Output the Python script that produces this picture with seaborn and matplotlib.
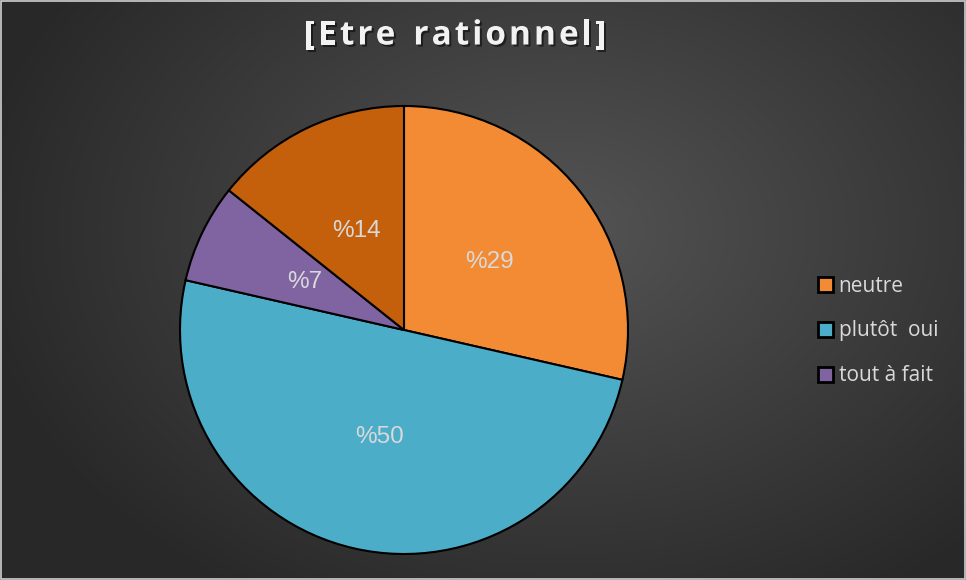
import matplotlib.pyplot as plt
import matplotlib.patheffects as pe
import numpy as np
import seaborn as sns
from matplotlib.patches import Patch, Rectangle

categories = ["neutre", "plutôt  oui", "tout à fait", ""]
counts = [4, 7, 1, 2]
colors = ["#F38B34", "#4BADC8", "#8064A2", "#C4600C"]
title = "[Etre rationnel]"


def main() -> None:
    sns.set_theme(style="dark")
    plt.rcParams["font.family"] = ["Open Sans", "DejaVu Sans"]

    fig = plt.figure(figsize=(9.66, 5.8), dpi=100)

    # radial gradient background
    bg = fig.add_axes([0, 0, 1, 1])
    yy, xx = np.mgrid[0:580, 0:966]
    d = np.hypot((xx - 560) / 966, (yy - 230) / 700)
    shade = np.clip(0.33 - 0.28 * d, 0.16, 0.34)
    bg.imshow(np.dstack([shade] * 3), aspect="auto", extent=[0, 1, 0, 1])
    bg.set_axis_off()
    fig.patches.append(
        Rectangle((0.001, 0.001), 0.998, 0.997, transform=fig.transFigure,
                  fill=False, edgecolor="#D0D0D0", linewidth=1.2)
    )

    r = 224
    cx, cy = 404, 330
    ax = fig.add_axes([(cx - r) / 966, (580 - cy - r) / 580, 2 * r / 966, 2 * r / 580])
    wedges, texts, autotexts = ax.pie(
        counts,
        colors=colors,
        startangle=90,
        counterclock=False,
        autopct=lambda p: f"%{p:.0f}",
        pctdistance=0.49,
        wedgeprops=dict(edgecolor="black", linewidth=1.5),
        textprops=dict(color="#D9D9D9", fontsize=17.5, family="Liberation Sans"),
    )
    ax.set_xlim(-1, 1)
    ax.set_ylim(-1, 1)
    ax.set_aspect("auto")

    handles = [
        Patch(facecolor=colors[i], edgecolor="black", linewidth=2, label=categories[i])
        for i in range(3)
    ]
    fig.legend(
        handles=handles,
        loc="center left",
        bbox_to_anchor=(799 / 966, 1 - 331 / 580),
        frameon=False,
        labelcolor="#D9D9D9",
        fontsize=15,
        handlelength=0.75,
        handleheight=0.75,
        handletextpad=0.25,
        labelspacing=1.15,
    )

    # title drawn char by char for the wide letter spacing
    renderer = fig.canvas.get_renderer()
    style = dict(fontsize=24, fontweight="bold", color="#F2F2F2", va="center", ha="left",
                 path_effects=[pe.withSimplePatchShadow(offset=(1.5, -1.5), shadow_rgbFace="black", alpha=0.5)])
    spacing = 3.0
    widths = []
    for ch in title:
        t = fig.text(0, 0, ch if ch != " " else "n", **style)
        w = t.get_window_extent(renderer).width
        widths.append(w * (0.55 if ch == " " else 1.0))
        t.remove()
    total = sum(widths) + spacing * (len(title) - 1)
    x = 455 - total / 2
    for ch, w in zip(title, widths):
        if ch != " ":
            fig.text(x / 966, 1 - 36 / 580, ch, **style)
        x += w + spacing

    fig.savefig("out.png", dpi=100)
    plt.close(fig)


if __name__ == "__main__":
    main()
